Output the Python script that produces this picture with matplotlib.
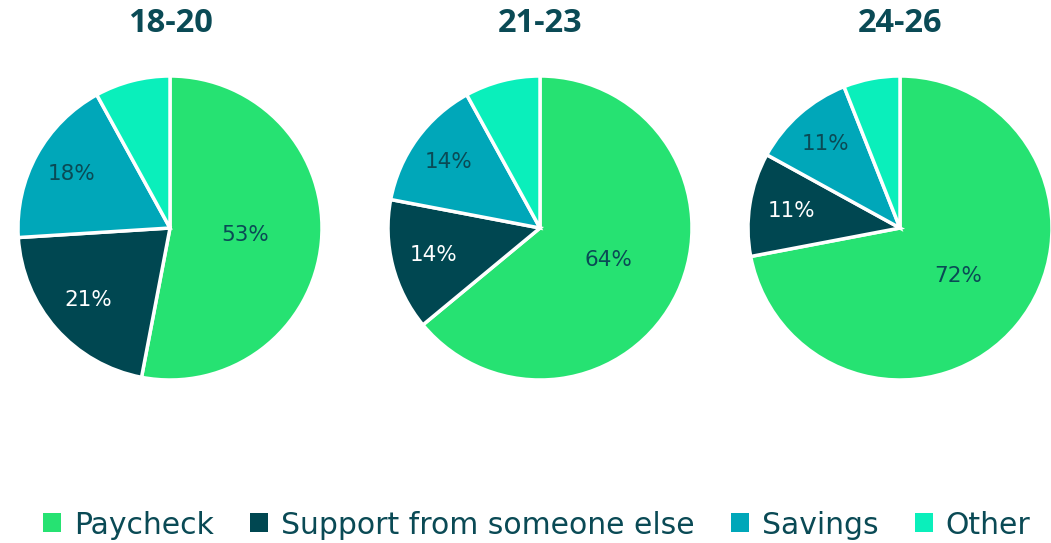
import matplotlib
matplotlib.use("Agg")
import matplotlib.pyplot as plt
from matplotlib.patches import Patch
import numpy as np

# Data
groups = ["18-20", "21-23", "24-26"]
categories = ["Paycheck", "Support from someone else", "Savings", "Other"]
paycheck = [53, 64, 72]
support = [21, 14, 11]
savings = [18, 14, 11]
other = [8, 8, 6]

C_PAY = "#26e272"
C_SUP = "#004751"
C_SAV = "#00a7b9"
C_OTH = "#0aefbb"
C_TEXT = "#0a4a55"
colors = [C_PAY, C_SUP, C_SAV, C_OTH]
label_colors = [C_TEXT, "white", C_TEXT, C_TEXT]
# label distance (fraction of radius) per category, Excel "best fit" look
label_dist = [0.5, 0.72, 0.74, 0.7]

plt.rcParams["font.family"] = ["DejaVu Sans"]

W, H = 1051, 543
fig = plt.figure(figsize=(W / 100, H / 100), dpi=100)

centers_x = [170, 540, 900]
center_y = 228
half = 155

for i, g in enumerate(groups):
    vals = [paycheck[i], support[i], savings[i], other[i]]
    ax = fig.add_axes([(centers_x[i] - half) / W, (H - center_y - half) / H,
                       2 * half / W, 2 * half / H])
    wedges, texts = ax.pie(
        vals, colors=colors, startangle=90, counterclock=False,
        radius=152 / 155,
        wedgeprops=dict(edgecolor="white", linewidth=2.5),
        labels=[f"{v}%" if k < 3 else "" for k, v in enumerate(vals)],
        textprops=dict(fontsize=15.5),
    )
    for w, t, c, d in zip(wedges, texts, label_colors, label_dist):
        ang = np.deg2rad((w.theta1 + w.theta2) / 2)
        t.set_position((w.r * d * np.cos(ang), w.r * d * np.sin(ang)))
        t.set_color(c)
        t.set_ha("center")
        t.set_va("center")
    ax.set_xlim(-1, 1)
    ax.set_ylim(-1, 1)
    ax.set_aspect("equal")
    ax.axis("off")
    fig.text(centers_x[i] / W, 1 - 24 / H, g, ha="center", va="center",
             fontsize=23.5, fontweight="bold", color=C_TEXT,
             family=["Open Sans", "DejaVu Sans"])

handles = [Patch(facecolor=c, edgecolor="none") for c in colors]
fig.legend(handles, categories, loc="center", bbox_to_anchor=(537 / W, 1 - 525 / H),
           ncol=4, frameon=False, fontsize=21.5, labelcolor=C_TEXT,
           handlelength=0.6, handleheight=0.6, handletextpad=0.43,
           columnspacing=1.22)

fig.savefig("out.png", dpi=100)
